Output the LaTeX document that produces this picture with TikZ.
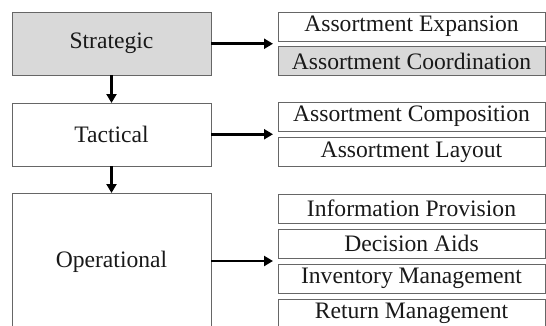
\documentclass[tikz,border=0pt]{standalone}
\usepackage{fontspec}
\setmainfont{Liberation Serif}
\usetikzlibrary{arrows.meta,calc}
\definecolor{boxline}{HTML}{666666}
\definecolor{boxfill}{HTML}{D9D9D9}
\tikzset{
  base/.style={draw=boxline, line width=1pt, inner sep=0pt, outer sep=0pt,
    font=\fontsize{23.6}{28}\selectfont, text=black!90},
  level/.style={base, minimum width=199pt},
  item/.style={base, minimum width=267pt, minimum height=29pt},
  shaded/.style={fill=boxfill},
  flow/.style={line width=2.8pt, -{Triangle[length=9pt,width=10pt]}}
}
\begin{document}
\begin{tikzpicture}[x=1pt,y=-1pt]
\useasboundingbox (0,0) rectangle (546,325);
\clip (0,0) rectangle (546,325);
% planning levels
\node[level, shaded, minimum height=63pt] (strat) at (111.5,43.5) {Strategic};
\node[level, minimum height=63pt] (tact) at (111.5,134.5) {Tactical};
\node[level, minimum height=138pt] (oper) at (111.5,262) {Operational};
% decisions per level
\node[item] (exp) at (411.5,26.5) {Assortment Expansion};
\node[item, shaded] (coord) at (411.5,61) {Assortment Coordination};
\node[item] (comp) at (411.5,116.5) {Assortment Composition};
\node[item] (lay) at (411.5,152) {Assortment Layout};
\node[item] (info) at (411.5,208.5) {Information Provision};
\node[item] (dec) at (411.5,243.5) {Decision Aids};
\node[item] (inv) at (411.5,278.5) {Inventory Management};
\node[item] (ret) at (411.5,313.5) {Return Management};
% arrow targets just left of each group
\coordinate (tS) at ($($(exp.south west)!0.5!(coord.north west)$)+(-5,0)$);
\coordinate (tT) at ($($(comp.south west)!0.5!(lay.north west)$)+(-5,0)$);
\coordinate (tO) at ($($(dec.south west)!0.5!(inv.north west)$)+(-5,0)$);
% connectors
\draw[flow] (strat.south) -- (tact.north);
\draw[flow] (tact.south) -- (oper.north);
\draw[flow] (strat.east |- tS) -- (tS);
\draw[flow] (tact.east |- tT) -- (tT);
\draw[flow] (oper.east |- tO) -- (tO);
\end{tikzpicture}
\end{document}
